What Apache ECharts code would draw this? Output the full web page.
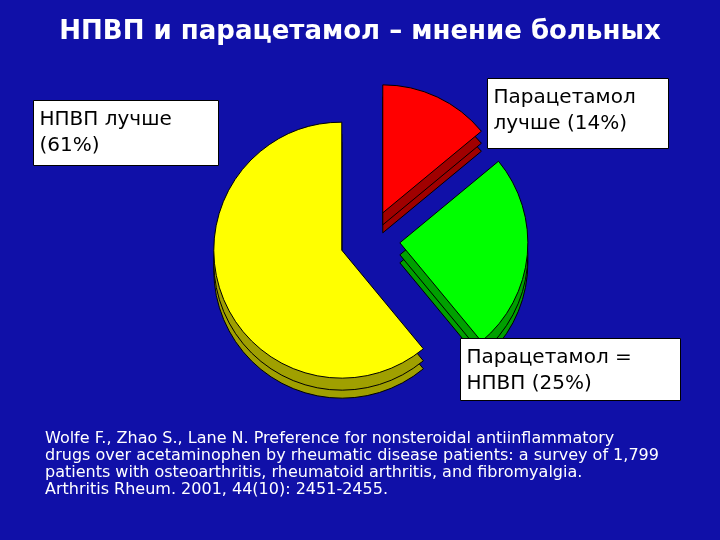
<!DOCTYPE html>
<html><head><meta charset="utf-8">
<script src="https://cdn.jsdelivr.net/npm/echarts@6/dist/echarts.min.js"></script>
<style>html,body{margin:0;background:#1010a8}#c{width:720px;height:540px}</style>
</head><body><div id="c"></div>
<script>
const categories = ['Парацетамол лучше', 'Парацетамол = НПВП', 'НПВП лучше'];
const values = [14, 25, 61];
const colors = ['#ff0000', '#00ff00', '#ffff00'];
const sideColors = ['#a00000', '#00a000', '#a0a000'];
const labels = ['Парацетамол\nлучше (14%)', 'Парацетамол =\nНПВП (25%)', 'НПВП лучше\n(61%)'];
const title = 'НПВП и парацетамол – мнение больных';
const footnote = 'Wolfe F., Zhao S., Lane N. Preference for nonsteroidal antiinflammatory\ndrugs over acetaminophen by rheumatic disease patients: a survey of 1,799\npatients with osteoarthritis, rheumatoid arthritis, and fibromyalgia.\nArthritis Rheum. 2001, 44(10): 2451-2455.';
const font = 'DejaVu Sans';
const chart = echarts.init(document.getElementById('c'));
function mk(cols, cy, z) {
  return {
    type: 'pie', center: [370, cy], radius: 128, startAngle: 90, clockwise: true,
    selectedMode: 'multiple', selectedOffset: 30, z: z, silent: true,
    label: {show: false}, labelLine: {show: false},
    itemStyle: {borderColor: '#000', borderWidth: 1},
    data: categories.map((n, i) => ({name: n, value: values[i], selected: true, itemStyle: {color: cols[i]}}))
  };
}
function box(x, y, w, h, t) {
  return {type: 'group', left: x, top: y, z: 100, children: [
    {type: 'rect', z: 100, shape: {width: w, height: h}, style: {fill: '#fff', stroke: '#000', lineWidth: 1}},
    {type: 'text', z: 101, left: 6, top: 6, style: {text: t, font: '20px "' + font + '"', fill: '#000', lineHeight: 26}}
  ]};
}
chart.setOption({
  backgroundColor: '#1010a8',
  animation: false,
  title: {text: title, left: 'center', top: 14, textStyle: {color: '#fff', fontSize: 26, fontWeight: 'bold', fontFamily: font}},
  series: [mk(sideColors, 260, 1), mk(sideColors, 252, 1), mk(colors, 240, 2)],
  graphic: [
    box(33, 100, 185, 65, labels[2]),
    box(487, 78, 181, 70, labels[0]),
    box(460, 338, 220, 62, labels[1]),
    {type: 'text', left: 45, top: 430, z: 100, style: {text: footnote, font: '16px "' + font + '"', fill: '#fff', lineHeight: 17}}
  ]
});
</script></body></html>
